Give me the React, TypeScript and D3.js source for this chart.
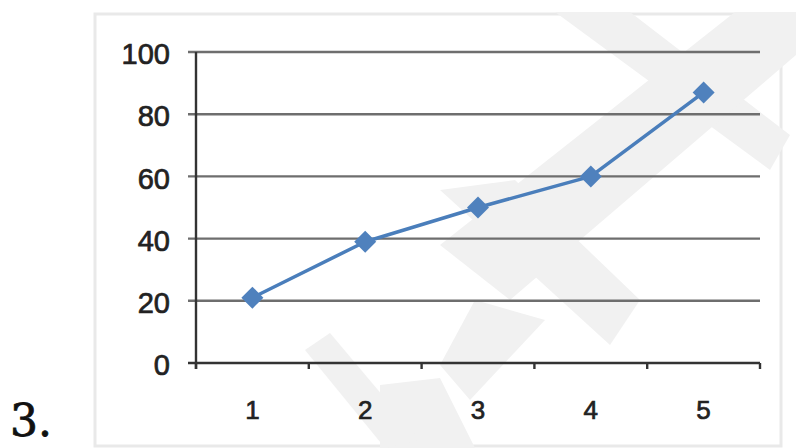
import React from "react";
import * as d3 from "d3";

const categories = ["1", "2", "3", "4", "5"];
const values = [21, 39, 50, 60, 87];
const yTicks = [0, 20, 40, 60, 80, 100];

// decorative watermark bands (very light grey) behind the chart
const watermark: [number, number][][] = [
  [[555, 12], [630, 12], [790, 135], [770, 170]],
  [[735, 12], [796, 12], [796, 55], [510, 300], [440, 245]],
  [[440, 190], [515, 180], [640, 300], [610, 345]],
  [[475, 300], [545, 320], [470, 400], [440, 365]],
  [[380, 385], [440, 378], [475, 448], [380, 448]],
  [[305, 350], [330, 333], [420, 440], [385, 448]],
];

export default function App() {
  const W = 796;
  const H = 448;
  const x = d3.scaleBand<string>().domain(categories).range([196, 760]);
  const y = d3.scaleLinear().domain([0, 100]).range([363, 52]);
  const cx = (c: string) => (x(c) as number) + x.bandwidth() / 2;
  const line = d3
    .line<number>()
    .x((_, i) => cx(categories[i]))
    .y((v) => y(v));
  const boundaries = [...categories.map((c) => x(c) as number), 760];
  const diamond = "M0,-11L11,0L0,11L-11,0Z";
  const font = "Liberation Sans, Arial, sans-serif";

  return (
    <svg
      width={W}
      height={H}
      style={{ position: "fixed", left: 0, top: 0, background: "#fff" }}
    >
      <rect x={95} y={14} width={686} height={432} fill="#fff" stroke="#e9e9e9" strokeWidth={3} />
      {watermark.map((p, i) => (
        <polygon key={i} points={p.map((q) => q.join(",")).join(" ")} fill="#f1f1f1" />
      ))}
      {yTicks.filter((t) => t > 0).map((t) => (
        <line key={t} x1={188} x2={760} y1={y(t)} y2={y(t)} stroke="#6e6e6e" strokeWidth={2.4} />
      ))}
      <line x1={196} x2={196} y1={y(100)} y2={y(0) + 6} stroke="#333" strokeWidth={2.4} />
      <line x1={188} x2={760} y1={y(0)} y2={y(0)} stroke="#333" strokeWidth={2.4} />
      {boundaries.map((b, i) => (
        <line key={i} x1={b} x2={b} y1={y(0)} y2={y(0) + 6} stroke="#333" strokeWidth={2.4} />
      ))}
      {yTicks.map((t) => (
        <text
          key={t}
          x={170}
          y={y(t)}
          dy="0.42em"
          textAnchor="end"
          fontFamily={font}
          fontSize={29}
          fill="#222"
          stroke="#222"
          strokeWidth={0.7}
        >
          {t}
        </text>
      ))}
      {categories.map((c) => (
        <text
          key={c}
          x={cx(c)}
          y={419}
          textAnchor="middle"
          fontFamily={font}
          fontSize={26}
          fill="#222"
          stroke="#222"
          strokeWidth={0.7}
        >
          {c}
        </text>
      ))}
      <path d={line(values) || ""} fill="none" stroke="#4a7ebb" strokeWidth={3.5} strokeLinejoin="round" />
      {values.map((v, i) => (
        <path key={i} d={diamond} transform={`translate(${cx(categories[i])},${y(v)})`} fill="#4f81bd" />
      ))}
      <text x={10} y={436} fontFamily="DejaVu Serif, serif" fontSize={44} fill="#111" stroke="#111" strokeWidth={0.8}>
        3.
      </text>
    </svg>
  );
}
